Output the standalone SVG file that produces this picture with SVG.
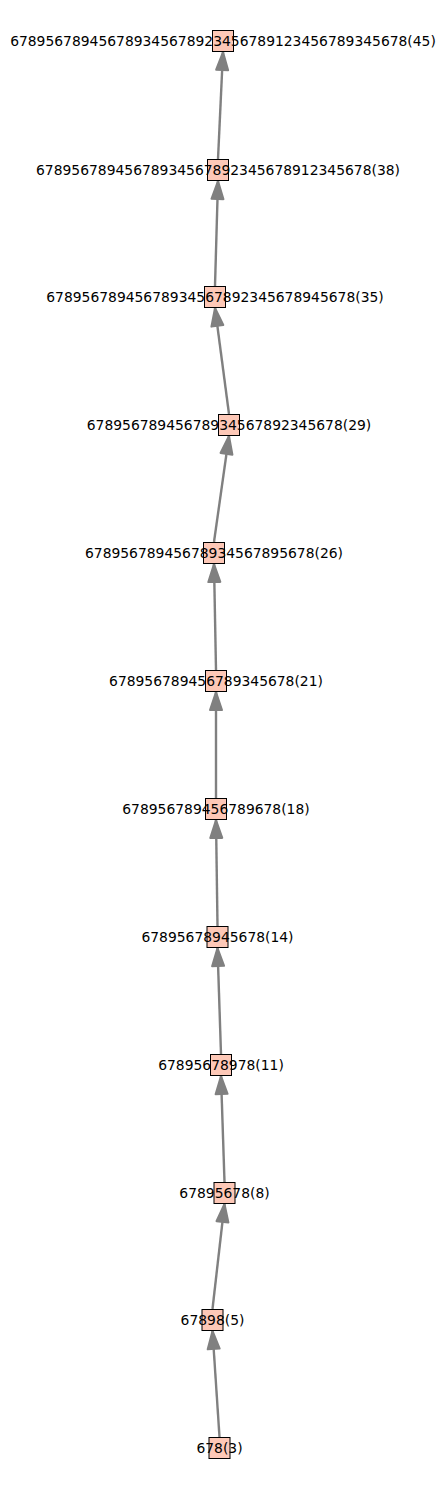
<svg xmlns="http://www.w3.org/2000/svg" width="445" height="1490" viewBox="0 0 445 1490">
<style>
.e{stroke:#808080;stroke-width:2.4;fill:none;marker-end:url(#ah)}
.n rect{fill:#fdc8b7;stroke:#000;stroke-width:1}
.n text{font-family:"DejaVu Sans",sans-serif;font-size:13.89px;text-anchor:middle;fill:#000}
</style>
<defs>
<marker id="ah" markerUnits="userSpaceOnUse" markerWidth="20" markerHeight="14" refX="19" refY="7" orient="auto" overflow="visible">
<path d="M1,1 L19,7 L1,13 z" fill="#808080" stroke="#808080" stroke-width="2" stroke-linejoin="round"/>
</marker>
</defs>
<rect width="445" height="1490" fill="#fff"/>
<g id="edges">
<line class="e" x1="219.5" y1="1437" x2="212.5" y2="1331"/>
<line class="e" x1="212.5" y1="1309" x2="224.5" y2="1204"/>
<line class="e" x1="224.5" y1="1182" x2="221" y2="1076"/>
<line class="e" x1="221" y1="1054" x2="217.5" y2="948"/>
<line class="e" x1="217.5" y1="926" x2="216" y2="820"/>
<line class="e" x1="216" y1="798" x2="216" y2="692"/>
<line class="e" x1="216" y1="670" x2="214" y2="564"/>
<line class="e" x1="214" y1="542" x2="229" y2="436"/>
<line class="e" x1="229" y1="414" x2="215" y2="308"/>
<line class="e" x1="215" y1="286" x2="218" y2="181"/>
<line class="e" x1="218" y1="159" x2="223" y2="52"/>
</g>
<g id="n3" class="n"><rect x="209" y="1437.5" width="21" height="21"/><text x="219.5" y="1453">678(3)</text></g>
<g id="n5" class="n"><rect x="202" y="1309.5" width="21" height="21"/><text x="212.5" y="1325">67898(5)</text></g>
<g id="n8" class="n"><rect x="214" y="1182.5" width="21" height="21"/><text x="224.5" y="1198">67895678(8)</text></g>
<g id="n11" class="n"><rect x="210.5" y="1054.5" width="21" height="21"/><text x="221" y="1070">67895678978(11)</text></g>
<g id="n14" class="n"><rect x="207" y="926.5" width="21" height="21"/><text x="217.5" y="942">67895678945678(14)</text></g>
<g id="n18" class="n"><rect x="205.5" y="798.5" width="21" height="21"/><text x="216" y="814">678956789456789678(18)</text></g>
<g id="n21" class="n"><rect x="205.5" y="670.5" width="21" height="21"/><text x="216" y="686">678956789456789345678(21)</text></g>
<g id="n26" class="n"><rect x="203.5" y="542.5" width="21" height="21"/><text x="214" y="558">67895678945678934567895678(26)</text></g>
<g id="n29" class="n"><rect x="218.5" y="414.5" width="21" height="21"/><text x="229" y="430">67895678945678934567892345678(29)</text></g>
<g id="n35" class="n"><rect x="204.5" y="286.5" width="21" height="21"/><text x="215" y="302">67895678945678934567892345678945678(35)</text></g>
<g id="n38" class="n"><rect x="207.5" y="159.5" width="21" height="21"/><text x="218" y="175">67895678945678934567892345678912345678(38)</text></g>
<g id="n45" class="n"><rect x="212.5" y="30.5" width="21" height="21"/><text x="223" y="46">678956789456789345678923456789123456789345678(45)</text></g>
</svg>
